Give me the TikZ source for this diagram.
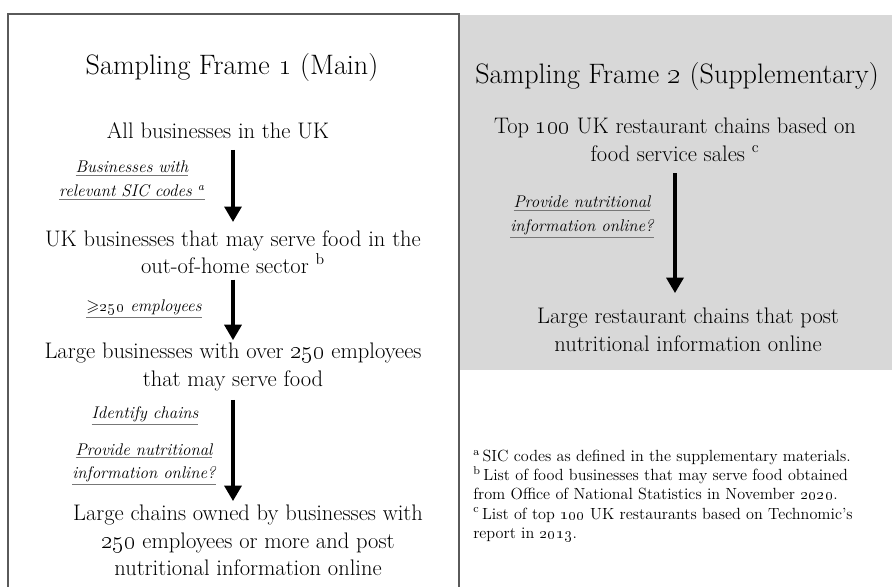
\documentclass[tikz,border=0pt]{standalone}
\usepackage{tikz}
\usetikzlibrary{arrows.meta}
\usepackage{xcolor}
\usepackage{amssymb}
\definecolor{FrameGrey}{HTML}{5A5A5A}
\definecolor{PanelGrey}{HTML}{D8D8D8}
\definecolor{RuleGrey}{HTML}{777777}
\newcommand{\ulabel}[1]{{\color{RuleGrey}\underline{\color{black}#1}}}

\begin{document}
\begin{tikzpicture}[x=0.025cm, y=-0.025cm,
    heading/.style={anchor=base, inner sep=0, font=\fontsize{20}{24}\selectfont},
    stage/.style={anchor=north, inner sep=0, align=center, font=\fontsize{16}{19.3}\selectfont},
    cond/.style={anchor=north, inner sep=0, align=center, font=\fontsize{12}{16.5}\selectfont\itshape},
    arr/.style={-{Triangle[width=12pt, length=11pt]}, line width=2.6pt}
]
\useasboundingbox (0,0) rectangle (892,586);

% panels
\fill[PanelGrey] (459,15) rectangle (892,370);
\draw[FrameGrey, line width=1.2pt] (8,590) -- (8,14) -- (459,14) -- (459,590);

% frame 1
\node[heading] (title1) at (232,74) {Sampling Frame \oldstylenums{1} (Main)};
\node[stage] (all) at (218,122) {All businesses in the UK};
\node[cond] (sic) at (132,161) {\ulabel{Businesses with}\\\ulabel{relevant SIC codes \textsuperscript{a}}};
\node[stage] (uk) at (233,230) {UK businesses that may serve food in the\\out-of-home sector \textsuperscript{b}};
\node[cond] (emp) at (144,300) {\ulabel{$\geqslant$\oldstylenums{250} employees}};
\node[stage] (large) at (233,343) {Large businesses with over \oldstylenums{250} employees\\that may serve food};
\node[cond] (ident) at (145,406) {\ulabel{Identify chains}};
\node[cond] (nutri1) at (144,443) {\ulabel{Provide nutritional}\\\ulabel{information online?}};
\node[stage] (chains) at (248,505) {Large chains owned by businesses with\\\oldstylenums{250} employees or more and post\\nutritional information online};

\draw[arr, shorten <=7.8pt, shorten >=5.7pt] (all.south -| uk.north) -- (uk.north);
\draw[arr, shorten <=4.3pt, shorten >=2pt] (uk.south) -- (large.north);
\draw[arr, shorten <=6.4pt, shorten >=2.8pt] (large.south) -- (large.south |- chains.north);

% frame 2
\node[heading] (title2) at (677,83) {Sampling Frame \oldstylenums{2} (Supplementary)};
\node[stage] (top) at (675,118) {Top \oldstylenums{100} UK restaurant chains based on\\food service sales \textsuperscript{c}};
\node[cond] (nutri2) at (582,196) {\ulabel{Provide nutritional}\\\ulabel{information online?}};
\node[stage] (rest) at (688,308) {Large restaurant chains that post\\nutritional information online};

\draw[arr, shorten <=8.5pt, shorten >=10.6pt] (top.south) -- (top.south |- rest.north);

% footnotes
\node[anchor=north west, inner sep=0, align=left, font=\fontsize{11.5}{13.6}\selectfont] (notes) at (473,450)
    {\textsuperscript{a}\,SIC codes as defined in the supplementary materials.\\
     \textsuperscript{b}\,List of food businesses that may serve food obtained\\
     from Office of National Statistics in November \oldstylenums{2020}.\\
     \textsuperscript{c}\,List of top \oldstylenums{100} UK restaurants based on Technomic's\\
     report in \oldstylenums{2013}.};

\end{tikzpicture}
\end{document}
